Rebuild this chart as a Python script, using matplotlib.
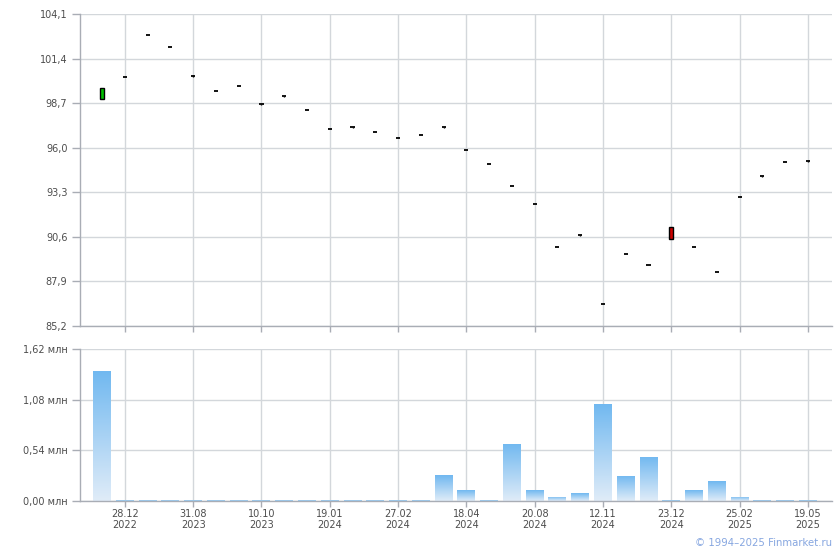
import matplotlib
matplotlib.use("Agg")
import matplotlib.pyplot as plt
import numpy as np
from matplotlib.colors import LinearSegmentedColormap

# ---- data ----
opens = [98.97, 100.26, 102.83, 102.10, 100.37, 99.44, 99.72, 98.67, 99.15, 98.27,
         97.11, 97.28, 96.93, 96.57, 96.75, 97.28, 95.84, 95.00, 93.66, 92.57,
         89.97, 90.70, 86.52, 89.55, 88.88, 91.18, 89.97, 88.45, 93.00, 94.27,
         95.15, 95.21]
closes = [99.60, 100.26, 102.83, 102.10, 100.37, 99.44, 99.72, 98.67, 99.15, 98.27,
          97.11, 97.28, 96.93, 96.57, 96.75, 97.28, 95.84, 95.00, 93.66, 92.57,
          89.97, 90.70, 86.52, 89.55, 88.88, 90.45, 89.97, 88.45, 93.00, 94.27,
          95.15, 95.21]
highs = [99.60, 100.26, 102.83, 102.10, 100.40, 99.44, 99.72, 98.67, 99.15, 98.27,
         97.11, 97.28, 96.93, 96.57, 96.75, 97.28, 95.84, 95.00, 93.66, 92.57,
         89.97, 90.70, 86.52, 89.55, 88.88, 91.18, 89.97, 88.45, 93.00, 94.27,
         95.15, 95.21]
lows = [98.97, 100.26, 102.83, 102.10, 100.30, 99.44, 99.72, 98.60, 99.08, 98.27,
        97.11, 97.20, 96.93, 96.57, 96.75, 97.20, 95.84, 95.00, 93.66, 92.57,
        89.97, 90.66, 86.52, 89.55, 88.88, 90.45, 89.97, 88.45, 93.00, 94.20,
        95.15, 95.14]
volumes = [1.386, 0.008, 0.008, 0.008, 0.008, 0.008, 0.008, 0.008, 0.008, 0.008,
           0.008, 0.008, 0.008, 0.008, 0.008, 0.277, 0.117, 0.008, 0.608, 0.117,
           0.043, 0.085, 1.034, 0.267, 0.469, 0.008, 0.117, 0.213, 0.043, 0.008,
           0.008, 0.008]  # millions
tick_labels = ["28.12\n2022", "31.08\n2023", "10.10\n2023", "19.01\n2024",
               "27.02\n2024", "18.04\n2024", "20.08\n2024", "12.11\n2024",
               "23.12\n2024", "25.02\n2025", "19.05\n2025"]
price_ticks = [85.2, 87.9, 90.6, 93.3, 96.0, 98.7, 101.4, 104.1]
vol_ticks = [0.0, 0.54, 1.08, 1.62]

# ---- style ----
plt.rcParams['font.family'] = ['DejaVu Sans']
GRID = '#d3d7db'
SPINE = '#a9adb5'
TXT = '#4d4d4d'
FS = 7

fig = plt.figure(figsize=(8.4, 5.5), dpi=100)
L, R = 80 / 840, 832 / 840
ax1 = fig.add_axes([L, 1 - 326 / 550, R - L, (326 - 14) / 550])
ax2 = fig.add_axes([L, 1 - 501 / 550, R - L, (501 - 349) / 550])

n = len(opens)
x = np.arange(n)
xticks = list(range(1, n, 3))[:len(tick_labels)]
xlim = (-0.97, n + 0.06)

for ax in (ax1, ax2):
    ax.set_xlim(*xlim)
    ax.set_xticks(xticks)
    for s in ('top', 'right'):
        ax.spines[s].set_visible(False)
    for s in ('left', 'bottom'):
        ax.spines[s].set_color(SPINE)
        ax.spines[s].set_linewidth(1)
    ax.grid(True, color=GRID, linewidth=1)
    ax.set_axisbelow(True)
    ax.tick_params(colors=SPINE, labelcolor=TXT, labelsize=FS, width=1)
    ax.tick_params(axis='y', length=6, pad=3)
    ax.tick_params(axis='x', length=4.5, pad=1.5)

# ---- candles ----
ax1.set_ylim(price_ticks[0], price_ticks[-1])
ax1.set_yticks(price_ticks)
ax1.set_yticklabels([f"{v:.1f}".replace('.', ',') for v in price_ticks])
ax1.tick_params(axis='x', labelbottom=False)
bw = 0.18
dw = 0.18
for i in x:
    o, c, h, l = opens[i], closes[i], highs[i], lows[i]
    ax1.vlines(i, l, h, color='black', linewidth=1, zorder=3)
    if abs(c - o) > 0.05:
        col = '#00c000' if c > o else '#cc0000'
        ax1.bar(i, abs(c - o), bottom=min(o, c), width=bw, color=col,
                edgecolor='black', linewidth=1, zorder=4)
    else:
        ax1.hlines(c, i - dw / 2, i + dw / 2, color='black', linewidth=1.3, zorder=4)

# ---- volumes with gradient ----
ax2.set_ylim(vol_ticks[0], vol_ticks[-1])
ax2.set_yticks(vol_ticks)
ax2.set_yticklabels([f"{v:.2f}".replace('.', ',') + " млн" for v in vol_ticks])
ax2.set_xticklabels(tick_labels, linespacing=1.05)
cmap = LinearSegmentedColormap.from_list('g', ['#e0ecf8', '#70b8f0'])
grad = np.linspace(0, 1, 256).reshape(-1, 1)
vw = 0.79
bars = ax2.bar(x, volumes, width=vw, color='none', zorder=2)
for b, v in zip(bars, volumes):
    x0 = b.get_x()
    im = ax2.imshow(grad, extent=[x0, x0 + vw, 0, v], origin='lower',
                    cmap=cmap, aspect='auto', zorder=2)
    im.set_clip_path(b)
ax2.set_xlim(*xlim)
ax2.set_ylim(vol_ticks[0], vol_ticks[-1])

fig.text(832 / 840, 1 - 543 / 550, "© 1994–2025 Finmarket.ru", ha='right',
         va='center', fontsize=7.3, color='#86a6e0')

fig.savefig('out.png', dpi=100)
